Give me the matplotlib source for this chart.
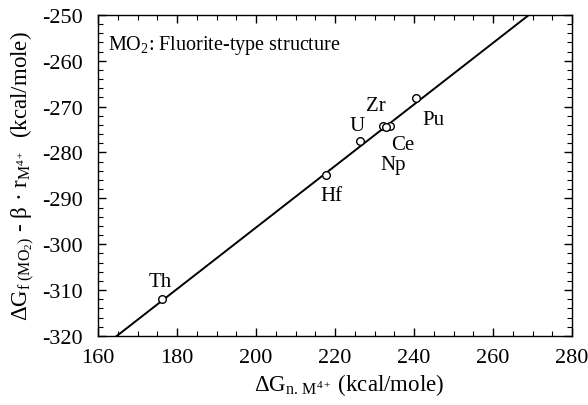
import numpy as np
import matplotlib
matplotlib.use("Agg")
import matplotlib.pyplot as plt
from matplotlib.ticker import MultipleLocator

plt.rcParams['font.family'] = ['Liberation Serif', 'DejaVu Serif']
plt.rcParams['mathtext.fontset'] = 'custom'
plt.rcParams['mathtext.rm'] = 'Liberation Serif'
plt.rcParams['mathtext.it'] = 'Liberation Serif:italic'
plt.rcParams['mathtext.bf'] = 'Liberation Serif:bold'
plt.rcParams['axes.unicode_minus'] = False

# data
elements = ["Th", "Hf", "U", "Zr", "Ce", "Np", "Pu"]
dGn = [176.2, 217.7, 226.3, 232.1, 233.9, 232.9, 240.5]
dGf = [-311.9, -284.9, -277.4, -274.3, -274.3, -274.5, -268.1]
label_x = [175.7, 219.0, 225.6, 230.4, 237.0, 234.7, 244.8]
label_y = [-308.2, -289.3, -274.2, -269.8, -278.3, -282.7, -272.9]

# fitted line end points
fit_x = [164.7, 269.1]
fit_y = [-320.0, -250.0]

fig = plt.figure(figsize=(5.88, 4.06), dpi=100)
ax = fig.add_axes([0.167, 0.170, 0.806, 0.791])

ax.plot(fit_x, fit_y, color='black', lw=1.4, zorder=2)
ax.plot(dGn, dGf, 'o', mfc='white', mec='black', ms=5.5, mew=1.0, zorder=3)

for name, lx, ly in zip(elements, label_x, label_y):
    ax.text(lx, ly, name, fontsize=15, ha='center', va='center')

ax.text(162.5, -256.4, r"MO$_2$: Fluorite-type structure", fontsize=14.5,
        ha='left', va='center')

ax.set_xlim(160, 280)
ax.set_ylim(-320, -250)
ax.xaxis.set_major_locator(MultipleLocator(20))
ax.xaxis.set_minor_locator(MultipleLocator(5))
ax.yaxis.set_major_locator(MultipleLocator(10))
ax.yaxis.set_minor_locator(MultipleLocator(2))
ax.tick_params(which='both', direction='in', top=True, right=True, labelsize=16)
ax.tick_params(which='major', length=6, width=1.0)
ax.tick_params(which='minor', length=3.5, width=0.8)
ax.tick_params(axis='x', which='major', pad=9)
ax.tick_params(axis='y', which='major', pad=11)
for sp in ax.spines.values():
    sp.set_linewidth(1.0)

ax.set_xlabel(r"$\Delta\mathrm{G}_{\mathrm{n.\,M}^{4+}}$ (kcal/mole)", fontsize=16.5, labelpad=3)
ax.xaxis.set_label_coords(0.53, -0.11)
ax.set_ylabel(r"$\Delta\mathrm{G}_{\mathrm{f}\ \mathrm{(MO_2)}}$ - β · r$_{\mathrm{M}^{4+}}$  (kcal/mole)",
              fontsize=16.5, labelpad=4)

fig.savefig("out.png", dpi=100)
